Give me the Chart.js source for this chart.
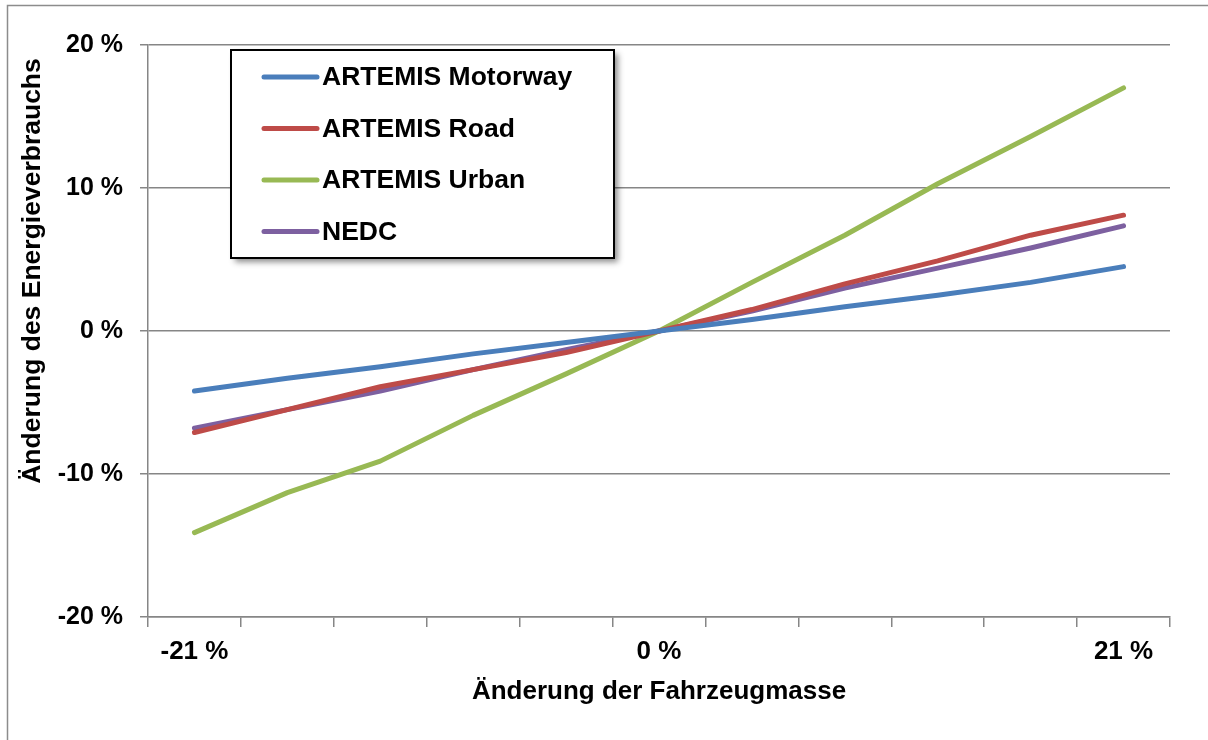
<!DOCTYPE html>
<html>
<head>
<meta charset="utf-8">
<script src="https://cdn.jsdelivr.net/npm/chart.js@4.4.1/dist/chart.umd.min.js"></script>
<style>
    html, body { margin: 0; padding: 0; background: #fff; }
    #wrap { width: 1208px; height: 740px; }
</style>
</head>
<body>
<div id="wrap"><canvas id="massChart" width="1208" height="740"></canvas></div>
<script>
// Änderung der Fahrzeugmasse (categories, %)
const massChange = [-21, -16.8, -12.6, -8.4, -4.2, 0, 4.2, 8.4, 12.6, 16.8, 21];
const labeledSteps = [-21, 0, 21];
const yTicks = [-20, -10, 0, 10, 20];

// Änderung des Energieverbrauchs (%)
const seriesNames = ['ARTEMIS Motorway', 'ARTEMIS Road', 'ARTEMIS Urban', 'NEDC'];
const motorway = [-4.2, -3.3, -2.5, -1.6, -0.8, 0, 0.8, 1.7, 2.5, 3.4, 4.5];
const road     = [-7.1, -5.5, -3.9, -2.7, -1.5, 0, 1.5, 3.3, 4.9, 6.7, 8.1];
const urban    = [-14.1, -11.3, -9.1, -5.9, -3.0, 0, 3.4, 6.7, 10.3, 13.6, 17.0];
const nedc     = [-6.8, -5.5, -4.2, -2.7, -1.3, 0, 1.4, 3.0, 4.4, 5.8, 7.35];

const yTitle = 'Änderung des Energieverbrauchs';
const colors = ['#4a7ebb', '#be4b48', '#98b954', '#7d60a0'];
const gridGray = '#868686';
const fontFamily = '"Liberation Sans", Arial, sans-serif';

const frame = {
    id: 'frame',
    beforeDraw(chart) {
        const ctx = chart.ctx;
        ctx.save();
        ctx.fillStyle = '#fff';
        ctx.fillRect(0, 0, chart.width, chart.height);
        ctx.strokeStyle = '#8c8c8c';
        ctx.lineWidth = 1.5;
        ctx.strokeRect(7.5, 5.5, 1400, 1000);
        ctx.restore();
    },
    afterDraw(chart) {
        // y title sits a bit above the axis middle, like the original
        const ctx = chart.ctx;
        ctx.save();
        ctx.translate(33, 271);
        ctx.rotate(-Math.PI / 2);
        ctx.font = 'bold 26.5px ' + fontFamily;
        ctx.fillStyle = '#000';
        ctx.textAlign = 'center';
        ctx.textBaseline = 'middle';
        ctx.fillText(yTitle, 0, 0);
        ctx.restore();
    }
};

// legend box inside the plot, drawn on top
const boxLegend = {
    id: 'boxLegend',
    afterDatasetsDraw(chart) {
        const ctx = chart.ctx;
        const x = 231, y = 50, w = 383, h = 208;
        ctx.save();
        ctx.shadowColor = 'rgba(0,0,0,0.45)';
        ctx.shadowBlur = 6;
        ctx.shadowOffsetX = 4;
        ctx.shadowOffsetY = 4;
        ctx.fillStyle = '#fff';
        ctx.fillRect(x, y, w, h);
        ctx.shadowColor = 'transparent';
        ctx.strokeStyle = '#000';
        ctx.lineWidth = 2;
        ctx.strokeRect(x, y, w, h);
        ctx.font = 'bold 26.5px ' + fontFamily;
        ctx.textBaseline = 'middle';
        ctx.lineCap = 'round';
        chart.data.datasets.forEach((ds, i) => {
            const rowY = 77 + i * 51.5;
            ctx.strokeStyle = ds.borderColor;
            ctx.lineWidth = 5;
            ctx.beginPath();
            ctx.moveTo(264, rowY);
            ctx.lineTo(317, rowY);
            ctx.stroke();
            ctx.fillStyle = '#000';
            ctx.fillText(ds.label, 322, rowY + 1);
        });
        ctx.restore();
    }
};

const seriesData = [motorway, road, urban, nedc];

new Chart(document.getElementById('massChart'), {
    type: 'line',
    data: {
        labels: massChange,
        datasets: seriesNames.map((name, i) => ({
            label: name,
            data: seriesData[i],
            borderColor: colors[i],
            backgroundColor: colors[i],
            borderWidth: 5,
            borderCapStyle: 'round',
            borderJoinStyle: 'round',
            pointRadius: 0,
            tension: 0,
            fill: false
        }))
    },
    options: {
        responsive: false,
        animation: false,
        layout: {
            padding: { left: 0, top: 45, right: 38, bottom: 0 }
        },
        plugins: {
            legend: { display: false },
            tooltip: { enabled: false }
        },
        scales: {
            x: {
                type: 'category',
                offset: true,
                afterFit: s => { s.height = 123; },
                grid: {
                    offset: true,
                    drawOnChartArea: false,
                    drawTicks: true,
                    tickLength: 10,
                    color: gridGray,
                    lineWidth: 1.5
                },
                border: { display: true, color: gridGray, width: 1.5 },
                ticks: {
                    autoSkip: false,
                    maxRotation: 0,
                    padding: 9,
                    color: '#000',
                    font: { family: fontFamily, size: 26, weight: 'bold' },
                    callback: (val, i) => labeledSteps.includes(massChange[i]) ? massChange[i] + ' %' : ''
                },
                title: {
                    display: true,
                    text: 'Änderung der Fahrzeugmasse',
                    color: '#000',
                    font: { family: fontFamily, size: 26, weight: 'bold' },
                    padding: { top: 0, bottom: 33 }
                }
            },
            y: {
                min: yTicks[0],
                max: yTicks[yTicks.length - 1],
                afterFit: s => { s.width = 148; },
                afterBuildTicks: s => { s.ticks = yTicks.map(v => ({ value: v })); },
                grid: {
                    color: gridGray,
                    lineWidth: 1.5,
                    tickLength: 8
                },
                border: { display: true, color: gridGray, width: 1.5 },
                ticks: {
                    padding: 17,
                    color: '#000',
                    font: { family: fontFamily, size: 25, weight: 'bold' },
                    callback: v => v + ' %'
                }
            }
        }
    },
    plugins: [frame, boxLegend]
});
</script>
</body>
</html>
